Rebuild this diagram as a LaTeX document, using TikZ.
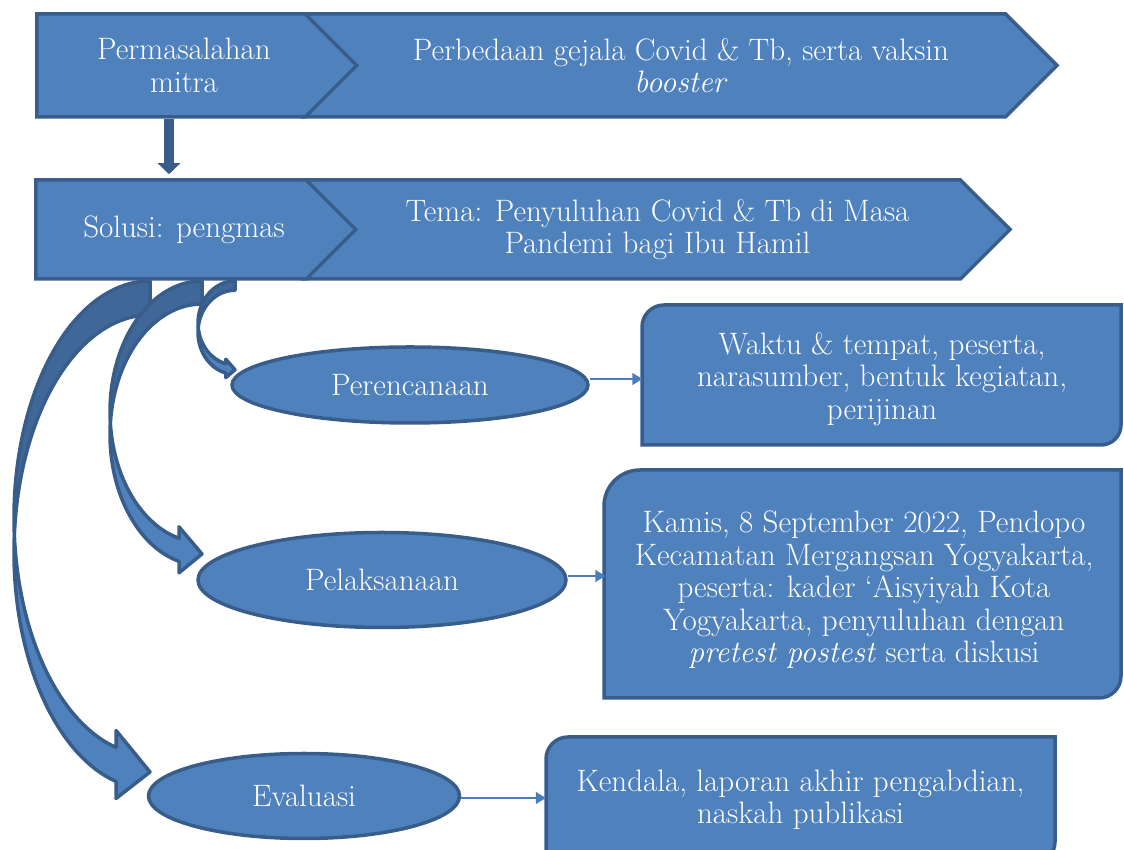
\documentclass[tikz,border=0pt]{standalone}
\usetikzlibrary{shapes.geometric,shapes.symbols,arrows.meta}
\definecolor{boxfill}{HTML}{4F81BD}
\definecolor{boxedge}{HTML}{385D8A}
\definecolor{boxback}{HTML}{3F6797}
\definecolor{linkblue}{HTML}{4A7EBB}

% curved block arrow: left, right, top, bottom
\newcommand{\bentarrow}[4]{%
  \pgfmathsetmacro{\caW}{#2-#1}%
  \pgfmathsetmacro{\caH}{#3-#4}%
  \pgfmathsetmacro{\caS}{min(\caW,\caH)}%
  \pgfmathsetmacro{\caT}{\caS/4}%
  \pgfmathsetmacro{\caA}{\caS/2}%
  \pgfmathsetmacro{\caR}{\caH/2-(\caT+\caA)/4}%
  \pgfmathsetmacro{\caAl}{acos(\caT/\caW)}%
  \pgfmathsetmacro{\caBe}{asin(\caT/(2*\caR))}%
  \pgfmathsetmacro{\caDy}{\caR*sin(\caAl)}%
  \pgfmathsetmacro{\caDh}{(\caA-\caT)/2}%
  \pgfmathsetmacro{\caYb}{#3-\caR-\caT}%
  \pgfmathsetmacro{\caIx}{#2-\caW*cos(\caBe)}%
  \pgfmathsetmacro{\caIy}{\caYb+\caT/2}%
  \filldraw[arrback] (#2,#3-\caT)
    arc[start angle=90, end angle=180-\caBe, x radius=\caW, y radius=\caR]
    arc[start angle=180+\caBe, end angle=90, x radius=\caW, y radius=\caR] -- cycle;
  \filldraw[arrfront] (\caIx,\caIy)
    arc[start angle=180+\caBe, end angle=180+\caAl, x radius=\caW, y radius=\caR]
    -- ++(0,\caDh) -- (#2,#4+\caA/2) -- (#2-\caT,\caYb-\caDy-\caDh) -- (#2-\caT,\caYb-\caDy)
    arc[start angle=180+\caAl, end angle=180-\caBe, x radius=\caW, y radius=\caR] -- cycle;
}

\begin{document}
\begin{tikzpicture}[x=1pt, y=1pt,
    every node/.style = {text=white, align=center, inner sep=0pt,
                         font=\fontsize{31}{32.5}\selectfont},
    shapeline/.style = {draw=boxedge, fill=boxfill, line width=3.5pt},
    stage/.style = {shapeline, signal, signal to=east, signal pointer angle=90},
    phase/.style = {shapeline, ellipse},
    arrback/.style = {fill=boxback, draw=boxedge, line width=3.5pt, line join=round},
    arrfront/.style = {fill=boxfill, draw=boxedge, line width=3.5pt, line join=round},
    downarrow/.style = {draw=boxedge, line width=10pt, -{Triangle[length=11pt, width=22pt]}},
    link/.style = {draw=linkblue, line width=1.5pt, -{Triangle[length=10pt, width=12pt]}}]
  \useasboundingbox (0,0) rectangle (1124,850);

  % curved arrows from the solution step
  \bentarrow{14}{150}{569}{44}
  \bentarrow{110}{202}{569}{273}
  \bentarrow{198}{235}{569}{471}

  % first two rows
  \node[stage, signal from=west, minimum width=752pt, minimum height=103pt] (pb) at (681,784.5)
    {Perbedaan gejala Covid \& Tb, serta vaksin\\\textit{booster}};
  \node[stage, minimum width=320pt, minimum height=103pt] (pm) at (171,784.5)
    {\hspace*{26pt}Permasalahan\\\hspace*{26pt}mitra};
  \node[stage, signal from=west, minimum width=705pt, minimum height=99pt] (tm) at (657.5,620.5)
    {Tema: Penyuluhan Covid \& Tb di Masa\\Pandemi bagi Ibu Hamil};
  \node[stage, minimum width=320pt, minimum height=99pt] (sl) at (171,620.5)
    {\hspace*{26pt}Solusi: pengmas};

  \coordinate (dx) at (169,0);
  \coordinate (slin) at ([yshift=4pt]sl.north -| dx);
  \draw[downarrow] (pm.south -| dx) -- (slin);

  % phases
  \node[phase, minimum width=356pt, minimum height=76pt] (pr) at (410,465) {Perencanaan};
  \node[phase, minimum width=368pt, minimum height=95pt] (pl) at (382,270) {Pelaksanaan};
  \node[phase, minimum width=311pt, minimum height=85pt] (ev) at (304,54) {Evaluasi};

  % details
  \draw[shapeline] (642,405) -- (642,523) arc[start angle=180, end angle=90, radius=22]
    -- (1121,545) -- (1121,425) arc[start angle=0, end angle=-90, radius=20] -- cycle;
  \node[minimum width=479pt, minimum height=140pt] (wk) at (882,471)
    {Waktu \& tempat, peserta,\\narasumber, bentuk kegiatan,\\perijinan};
  \draw[shapeline] (604,152) -- (604,344) arc[start angle=180, end angle=90, radius=36]
    -- (1121,380) -- (1121,174) arc[start angle=0, end angle=-90, radius=22] -- cycle;
  \node[minimum width=517pt, minimum height=228pt] (ks) at (864,260)
    {Kamis, 8 September 2022, Pendopo\\Kecamatan Mergangsan Yogyakarta,\\peserta: kader `Aisyiyah Kota\\Yogyakarta, penyuluhan dengan\\\textit{pretest postest} serta diskusi};
  \draw[shapeline] (546,-12) -- (546,91) arc[start angle=180, end angle=90, radius=22]
    -- (1055,113) -- (1055,8) arc[start angle=0, end angle=-90, radius=20] -- cycle;
  \node[minimum width=509pt, minimum height=125pt] (kd) at (800.5,50)
    {Kendala, laporan akhir pengabdian,\\naskah publikasi};

  \coordinate (prout) at ([yshift=6pt]pr.east);
  \coordinate (plout) at ([yshift=4pt]pl.east);
  \coordinate (evout) at ([yshift=-2pt]ev.east);
  \draw[link] (prout) -- (prout -| wk.west);
  \draw[link] (plout) -- (plout -| ks.west);
  \draw[link] (evout) -- (evout -| kd.west);
\end{tikzpicture}
\end{document}
